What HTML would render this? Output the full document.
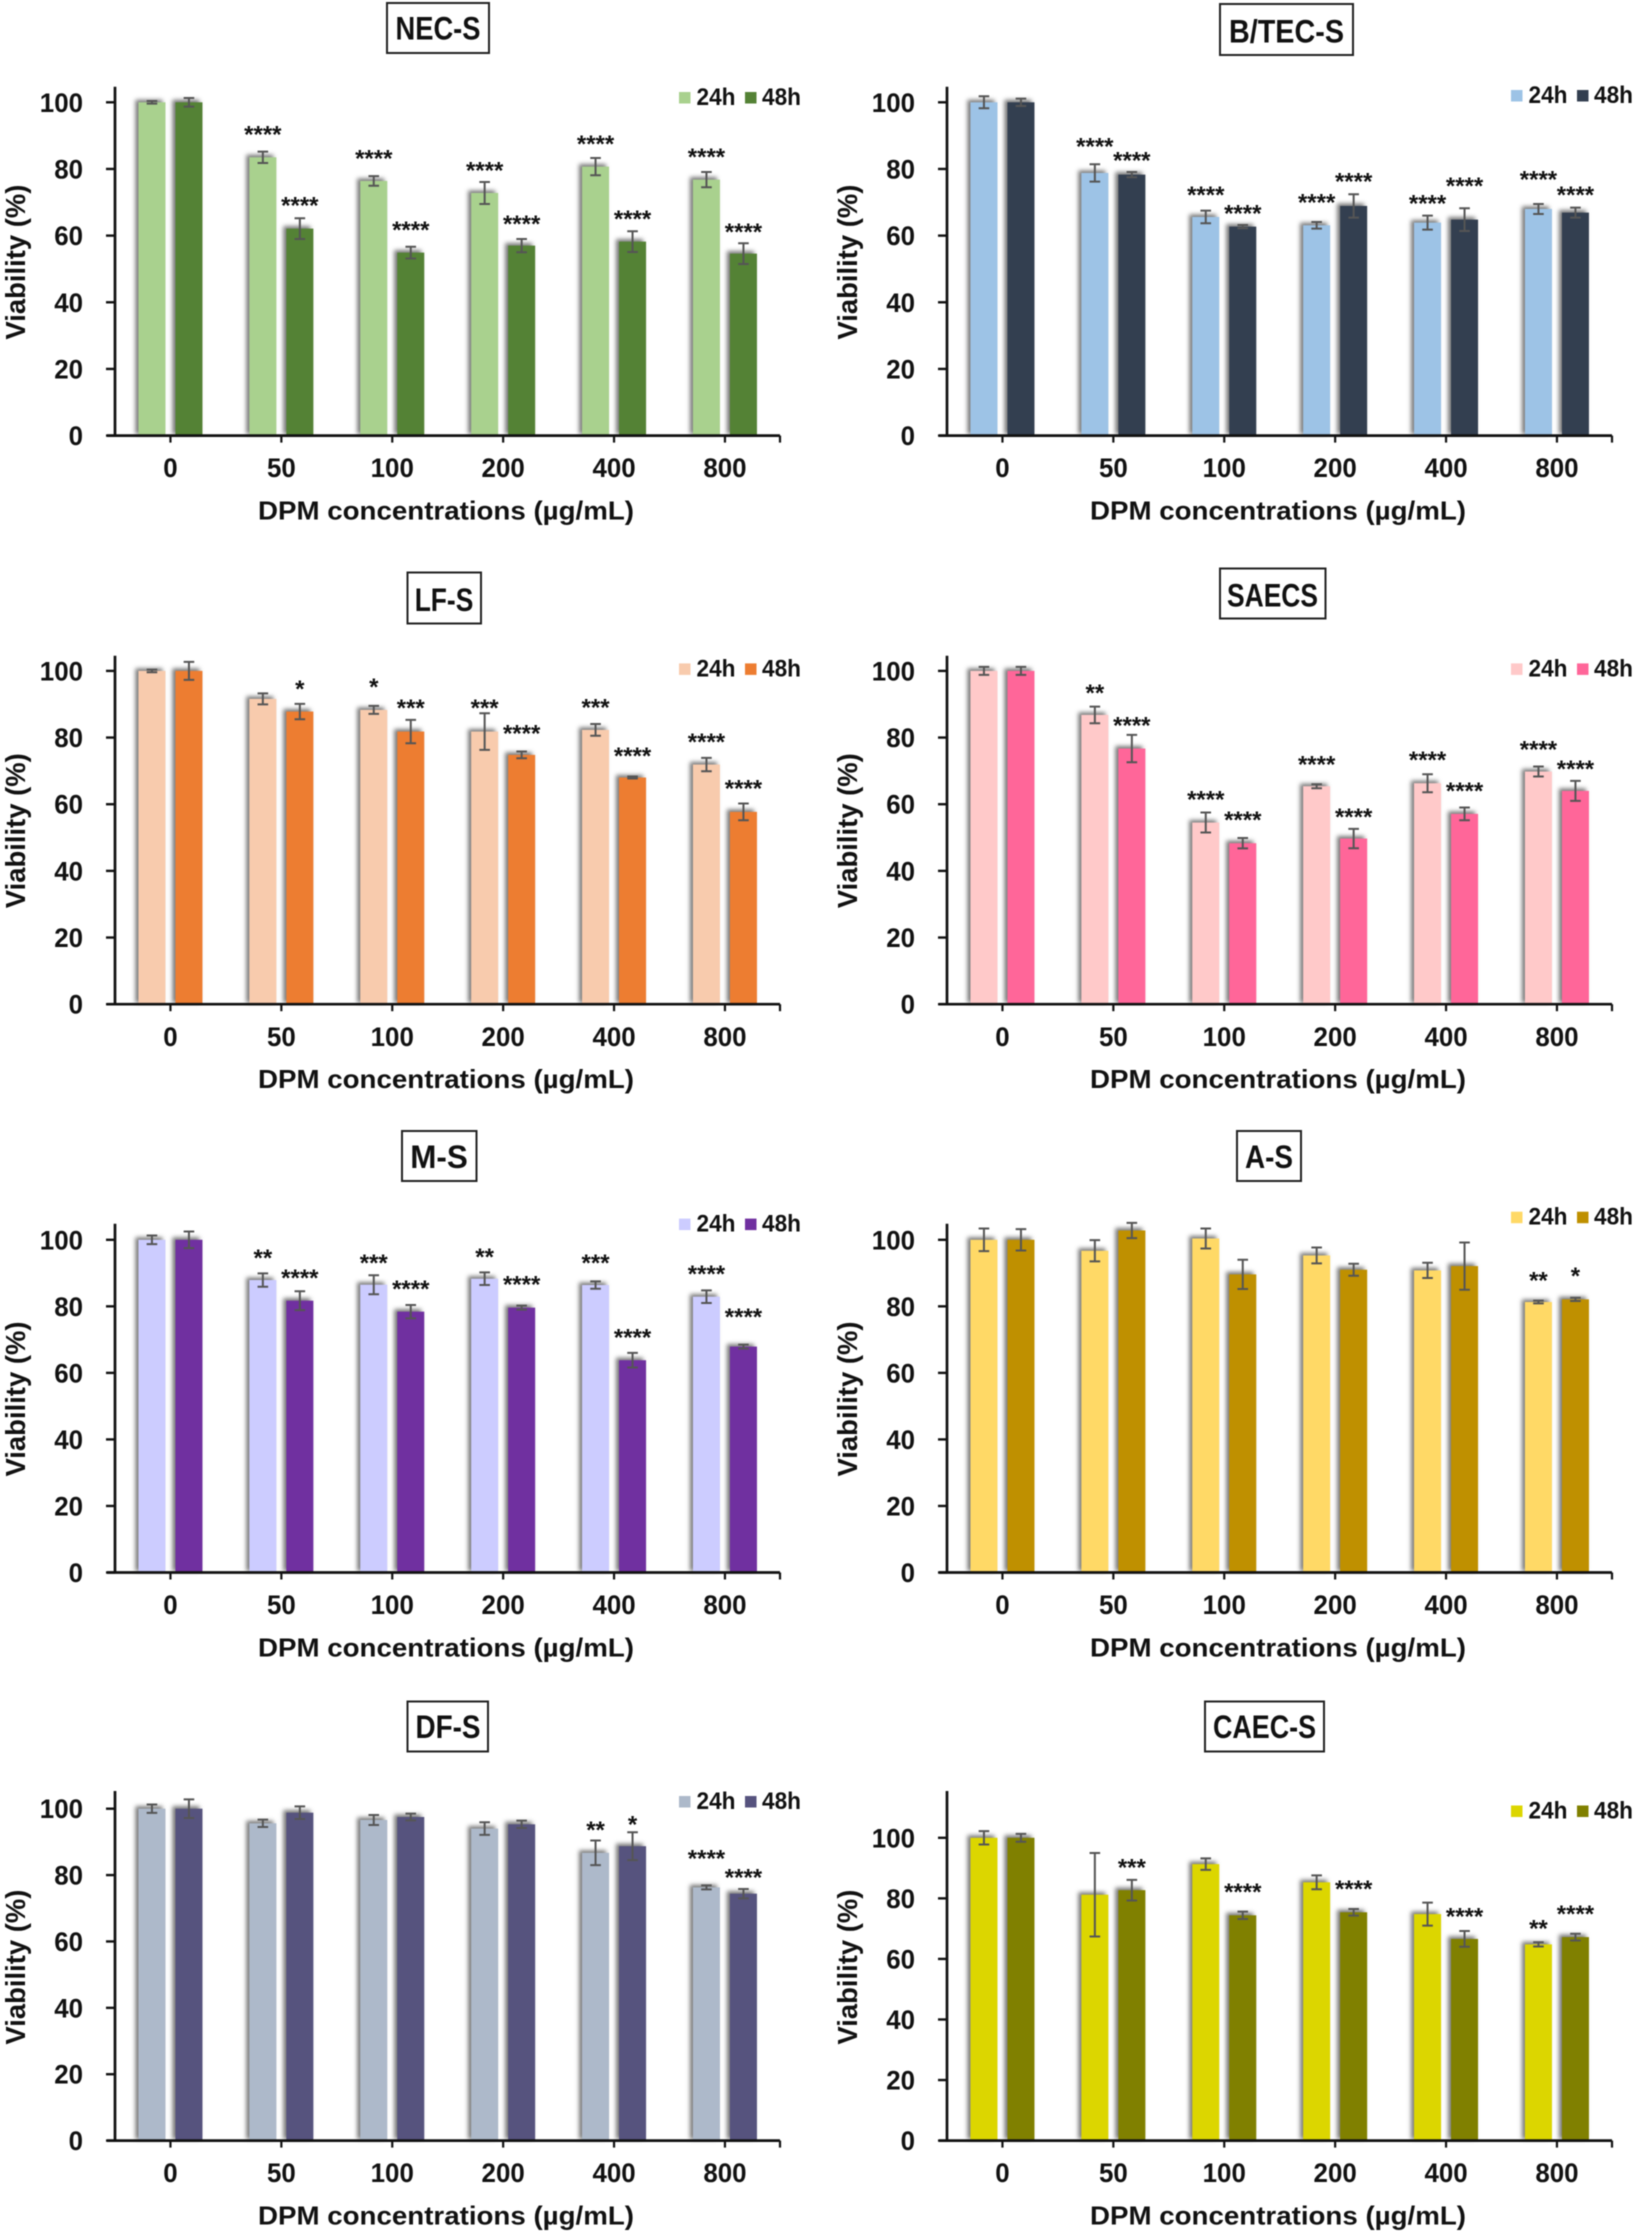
<!DOCTYPE html>
<html lang="en">
<head>
<meta charset="utf-8">
<title>Viability charts</title>
<style>
html,body{margin:0;padding:0;background:#fff;width:1633px;height:2231px;overflow:hidden}
svg{display:block;filter:blur(0.6px)}
text{font-family:"Liberation Sans",sans-serif;font-weight:700;fill:#111}
.ttl{font-size:32px;text-anchor:middle}
.box{fill:#fff;stroke:#222;stroke-width:2}
</style>
</head>
<body>
<svg id="chart-root" xmlns="http://www.w3.org/2000/svg" width="1633" height="2231" viewBox="0 0 1633 2231">
<defs>
<filter id="barShadow" x="-50%" y="-10%" width="200%" height="120%"><feGaussianBlur stdDeviation="2.2"/></filter>
</defs>
<rect width="1633" height="2231" fill="#fff"/>
<g><rect class="box" x="387" y="3" width="102" height="50"/><text class="ttl" x="438" y="39.5" textLength="85" lengthAdjust="spacingAndGlyphs">NEC-S</text></g>
<g><rect class="box" x="1220" y="4" width="133" height="51"/><text class="ttl" x="1286.5" y="42.5" textLength="115" lengthAdjust="spacingAndGlyphs">B/TEC-S</text></g>
<g><rect class="box" x="407.5" y="572.5" width="73.5" height="51"/><text class="ttl" x="444" y="611" textLength="58.6" lengthAdjust="spacingAndGlyphs">LF-S</text></g>
<g><rect class="box" x="1220" y="568.5" width="105.5" height="50"/><text class="ttl" x="1272.5" y="606.5" textLength="91" lengthAdjust="spacingAndGlyphs">SAECS</text></g>
<g><rect class="box" x="402" y="1131" width="74.5" height="50"/><text class="ttl" x="439" y="1168" textLength="57.5" lengthAdjust="spacingAndGlyphs">M-S</text></g>
<g><rect class="box" x="1237" y="1131" width="64" height="50"/><text class="ttl" x="1269" y="1168" textLength="48" lengthAdjust="spacingAndGlyphs">A-S</text></g>
<g><rect class="box" x="407.5" y="1701.5" width="80.5" height="50"/><text class="ttl" x="448" y="1738" textLength="65" lengthAdjust="spacingAndGlyphs">DF-S</text></g>
<g><rect class="box" x="1205" y="1701.5" width="119" height="50"/><text class="ttl" x="1264.5" y="1738" textLength="103" lengthAdjust="spacingAndGlyphs">CAEC-S</text></g>
</svg>
<script>
const categories = ['0','50','100','200','400','800'];
const yTickLabels = [0,20,40,60,80,100];
const seriesNames = ['24h','48h'];
const xAxisTitle = 'DPM concentrations (\u00b5g/mL)';
const yAxisTitle = 'Viability (%)';

const necValues24 = [100,83.5,76.4,72.8,80.7,76.8];
const necValues48 = [100,62.1,54.9,57,58.2,54.6];
const necError24 = [0.4,1.7,1.45,3.3,2.6,2.3];
const necError48 = [1.3,3.1,1.75,2,3.1,3.1];
const necStars24 = ['','****','****','****','****','****'];
const necStars48 = ['','****','****','****','****','****'];
const necGap24 = [0,8.6,8.6,8.6,8.6,8.6];
const necGap48 = [0,8.7,8.6,8.3,8.6,8.3];

const btecValues24 = [100,78.8,65.6,63.1,63.9,68];
const btecValues48 = [100,78.3,62.7,68.9,64.8,66.9];
const btecError24 = [1.8,2.6,1.9,1,2.1,1.5];
const btecError48 = [1.1,0.8,0.5,3.5,3.4,1.5];
const btecStars24 = ['','****','****','****','****','****'];
const btecStars48 = ['','****','****','****','****','****'];
const btecGap24 = [0,9.8,8.4,8.6,7.5,10.6];
const btecGap48 = [0,6,5.8,9.1,11.9,7.1];

const lfValues24 = [100,91.6,88.3,81.8,82.3,71.9];
const lfValues48 = [100,87.8,81.8,74.8,68,57.7];
const lfError24 = [0.4,1.65,1.2,5.5,1.75,2];
const lfError48 = [2.7,2.3,3.5,1,0.3,2.5];
const lfStars24 = ['','','*','***','***','****'];
const lfStars48 = ['','*','***','****','****','****'];
const lfGap24 = [0,0,8.6,8.8,8.5,8.5];
const lfGap48 = [0,8.6,8.8,8.2,8.3,8.8];

const saecValues24 = [100,86.8,54.5,65.4,66.3,69.8];
const saecValues48 = [100,76.7,48.3,49.7,57.1,64];
const saecError24 = [1.2,2.5,3,0.6,2.7,1.5];
const saecError48 = [1.2,4.1,1.55,2.9,1.9,3];
const saecStars24 = ['','**','****','****','****','****'];
const saecStars48 = ['','****','****','****','****','****'];
const saecGap24 = [0,8.3,8.7,8.3,8.7,8.4];
const saecGap48 = [0,8.7,8.8,8.3,8.7,8.4];

const mValues24 = [100,87.9,86.5,88.3,86.4,82.9];
const mValues48 = [100,81.7,78.4,79.6,63.8,67.9];
const mError24 = [1.3,2,2.85,1.9,1.1,1.9];
const mError48 = [2.5,2.85,2,0.6,2.2,0.6];
const mStars24 = ['','**','***','**','***','****'];
const mStars48 = ['','****','****','****','****','****'];
const mGap24 = [0,8.5,8.3,8.4,8.4,8.6];
const mGap48 = [0,8.6,8.6,8.7,8.6,10.7];

const aValues24 = [100,96.7,100.4,95.3,90.8,81.3];
const aValues48 = [100,102.8,89.6,91,92.1,82.1];
const aError24 = [3.4,3.2,3,2.4,2.3,0.4];
const aError48 = [3.2,2.3,4.4,1.8,7.1,0.5];
const aStars24 = ['','','','','','**'];
const aStars48 = ['','','','','','*'];
const aGap24 = [0,0,0,0,0,8.2];
const aGap48 = [0,0,0,0,0,8.8];

const dfValues24 = [100,95.6,96.6,94,86.7,76.3];
const dfValues48 = [100,98.8,97.5,95.3,88.7,74.4];
const dfError24 = [1.25,1.1,1.5,1.9,3.7,0.6];
const dfError48 = [2.8,1.9,1,1.1,4.2,1.4];
const dfStars24 = ['','','','','**','****'];
const dfStars48 = ['','','','','*','****'];
const dfGap24 = [0,0,0,0,8.7,10.5];
const dfGap48 = [0,0,0,0,8.3,6.7];

const caecValues24 = [100,81.2,91.3,85.3,74.8,64.8];
const caecValues48 = [100,82.7,74.4,75.4,66.6,67.2];
const caecError24 = [2.2,13.8,1.9,2.3,3.8,0.7];
const caecError48 = [1.3,3.4,1.2,1.1,2.6,1.1];
const caecStars24 = ['','','','','','**'];
const caecStars48 = ['','***','****','****','****','****'];
const caecGap24 = [0,0,0,0,0,7.2];
const caecGap48 = [0,9.5,9.6,9.6,9.4,9.6];

const panels = [
 {id:'nec',left:115,base:435.6,y100:102.3,top:86.8,legendBase:105,c24:'#a9d18e',c48:'#548235',v24:necValues24,v48:necValues48,e24:necError24,e48:necError48,s24:necStars24,s48:necStars48,g24:necGap24,g48:necGap48},
 {id:'btec',left:947,base:435.6,y100:102.3,top:86.8,legendBase:103,c24:'#9dc3e6',c48:'#333f50',v24:btecValues24,v48:btecValues48,e24:btecError24,e48:btecError48,s24:btecStars24,s48:btecStars48,g24:btecGap24,g48:btecGap48},
 {id:'lf',left:115,base:1004.2,y100:670.9,top:655.7,legendBase:676.4,c24:'#f8cbad',c48:'#ed7d31',v24:lfValues24,v48:lfValues48,e24:lfError24,e48:lfError48,s24:lfStars24,s48:lfStars48,g24:lfGap24,g48:lfGap48},
 {id:'saec',left:947,base:1004.2,y100:670.9,top:655.7,legendBase:676.4,c24:'#ffc9c9',c48:'#ff6699',v24:saecValues24,v48:saecValues48,e24:saecError24,e48:saecError48,s24:saecStars24,s48:saecStars48,g24:saecGap24,g48:saecGap48},
 {id:'m',left:115,base:1572.5,y100:1239.8,top:1223.7,legendBase:1231.6,c24:'#ccccff',c48:'#7030a0',v24:mValues24,v48:mValues48,e24:mError24,e48:mError48,s24:mStars24,s48:mStars48,g24:mGap24,g48:mGap48},
 {id:'a',left:947,base:1572.5,y100:1239.8,top:1223.7,legendBase:1224.7,c24:'#ffd966',c48:'#bf9000',v24:aValues24,v48:aValues48,e24:aError24,e48:aError48,s24:aStars24,s48:aStars48,g24:aGap24,g48:aGap48},
 {id:'df',left:115,base:2140.6,y100:1808.7,top:1791,legendBase:1809,c24:'#adb9ca',c48:'#56537e',v24:dfValues24,v48:dfValues48,e24:dfError24,e48:dfError48,s24:dfStars24,s48:dfStars48,g24:dfGap24,g48:dfGap48},
 {id:'caec',left:947,base:2140.6,y100:1837.8,top:1791,legendBase:1818.5,c24:'#dcd600',c48:'#808000',v24:caecValues24,v48:caecValues48,e24:caecError24,e48:caecError48,s24:caecStars24,s48:caecStars48,g24:caecGap24,g48:caecGap48}
];

const NS = 'http://www.w3.org/2000/svg';
const root = document.getElementById('chart-root');
const GROUP_W = 110.9, AXIS_W = 665, BAR_W = 27, BAR_IN = 5, CAP = 5.3;

function svgEl(parent, tag, props, content) {
  const node = document.createElementNS(NS, tag);
  for (const key in props) node.setAttribute(key, props[key]);
  if (content !== undefined) node.textContent = content;
  parent.appendChild(node);
  return node;
}
function xCenter(p, i) { return p.left + GROUP_W / 2 + GROUP_W * i; }
function yValue(p, v) { return p.base - v * (p.base - p.y100) / 100; }

function drawSeries(p, g, series, values, errors, stars, gaps, color) {
  const sign = series === '24h' ? -1 : 1;
  values.forEach(function (v, i) {
    const c = xCenter(p, i);
    const x = sign < 0 ? c - BAR_IN - BAR_W : c + BAR_IN;
    const y = yValue(p, v);
    const h = p.base - y;
    const sh = svgEl(g, 'rect', {x: x - 3, y: y - 2.5, width: BAR_W, height: h + 1, fill: '#777', filter: 'url(#barShadow)'});
    
    
    const bar = svgEl(g, 'rect', {x: x, y: y, width: BAR_W, height: h, fill: color});
    
    
  });
  values.forEach(function (v, i) {
    const cx = xCenter(p, i) + sign * 18.5;
    const hi = yValue(p, v + errors[i]);
    const lo = yValue(p, v - errors[i]);
    const err = svgEl(g, 'path', {d: 'M' + (cx - CAP) + ' ' + hi + 'H' + (cx + CAP) + 'M' + cx + ' ' + hi + 'V' + lo + 'M' + (cx - CAP) + ' ' + lo + 'H' + (cx + CAP), stroke: '#555', 'stroke-width': 2, fill: 'none'});
    
    
    if (stars[i]) {
      const st = svgEl(g, 'text', {x: cx, y: yValue(p, v + gaps[i]) + 14, 'text-anchor': 'middle', 'font-size': 24}, stars[i]);
      
      
    }
  });
}

function drawAxes(p, g) {
  const yAxis = svgEl(g, 'line', {x1: p.left, x2: p.left, y1: p.top, y2: p.base + 1, stroke: '#111', 'stroke-width': 2.7});
  
  
  const xAxis = svgEl(g, 'line', {x1: p.left - 8, x2: p.left + AXIS_W, y1: p.base, y2: p.base, stroke: '#111', 'stroke-width': 2.7});
  
  
  yTickLabels.forEach(function (t) {
    const y = yValue(p, t);
    const tick = svgEl(g, 'line', {x1: p.left - 9, x2: p.left, y1: y, y2: y, stroke: '#111', 'stroke-width': 2.4});
    
    
    const label = svgEl(g, 'text', {x: p.left - 32, y: y + 9.5, 'text-anchor': 'end', 'font-size': 27, textLength: String(t).length * 14.4, lengthAdjust: 'spacingAndGlyphs'}, t);
    
    
  });
  categories.forEach(function (cat, i) {
    const x = xCenter(p, i);
    const tick = svgEl(g, 'line', {x1: x, x2: x, y1: p.base, y2: p.base + 7, stroke: '#111', 'stroke-width': 2.2});
    
    
    const label = svgEl(g, 'text', {x: x, y: p.base + 41.6, 'text-anchor': 'middle', 'font-size': 26.5, textLength: cat.length * 14.4, lengthAdjust: 'spacingAndGlyphs'}, cat);
    
    
  });
  const endTick = svgEl(g, 'line', {x1: p.left + AXIS_W, x2: p.left + AXIS_W, y1: p.base, y2: p.base + 7, stroke: '#111', 'stroke-width': 2.2});
  
  
  const xT = svgEl(g, 'text', {x: p.left + 331, y: p.base + 84, 'text-anchor': 'middle', 'font-size': 26, textLength: 376, lengthAdjust: 'spacingAndGlyphs'}, xAxisTitle);
  
  
  const yx = p.left - 90, yy = p.base - 173.5;
  const yT = svgEl(g, 'text', {x: yx, y: yy, 'text-anchor': 'middle', 'font-size': 28, textLength: 155, lengthAdjust: 'spacingAndGlyphs', transform: 'rotate(-90 ' + yx + ' ' + yy + ')'}, yAxisTitle);
  
  
}

function drawLegend(p, g) {
  seriesNames.forEach(function (name, k) {
    const swatchX = p.left + (k === 0 ? 564 : 630);
    const textX = p.left + (k === 0 ? 581.5 : 647);
    const sw = svgEl(g, 'rect', {x: swatchX, y: p.legendBase - 13, width: 11.5, height: 11.5, fill: k === 0 ? p.c24 : p.c48});
    
    
    const tx = svgEl(g, 'text', {x: textX, y: p.legendBase, 'font-size': 24.5, textLength: 39, lengthAdjust: 'spacingAndGlyphs'}, name);
    
    
  });
}

panels.forEach(function (p) {
  const g = svgEl(root, 'g', {});
  
  
  drawSeries(p, g, '24h', p.v24, p.e24, p.s24, p.g24, p.c24);
  drawSeries(p, g, '48h', p.v48, p.e48, p.s48, p.g48, p.c48);
  drawAxes(p, g);
  drawLegend(p, g);
});
</script>
</body>
</html>
